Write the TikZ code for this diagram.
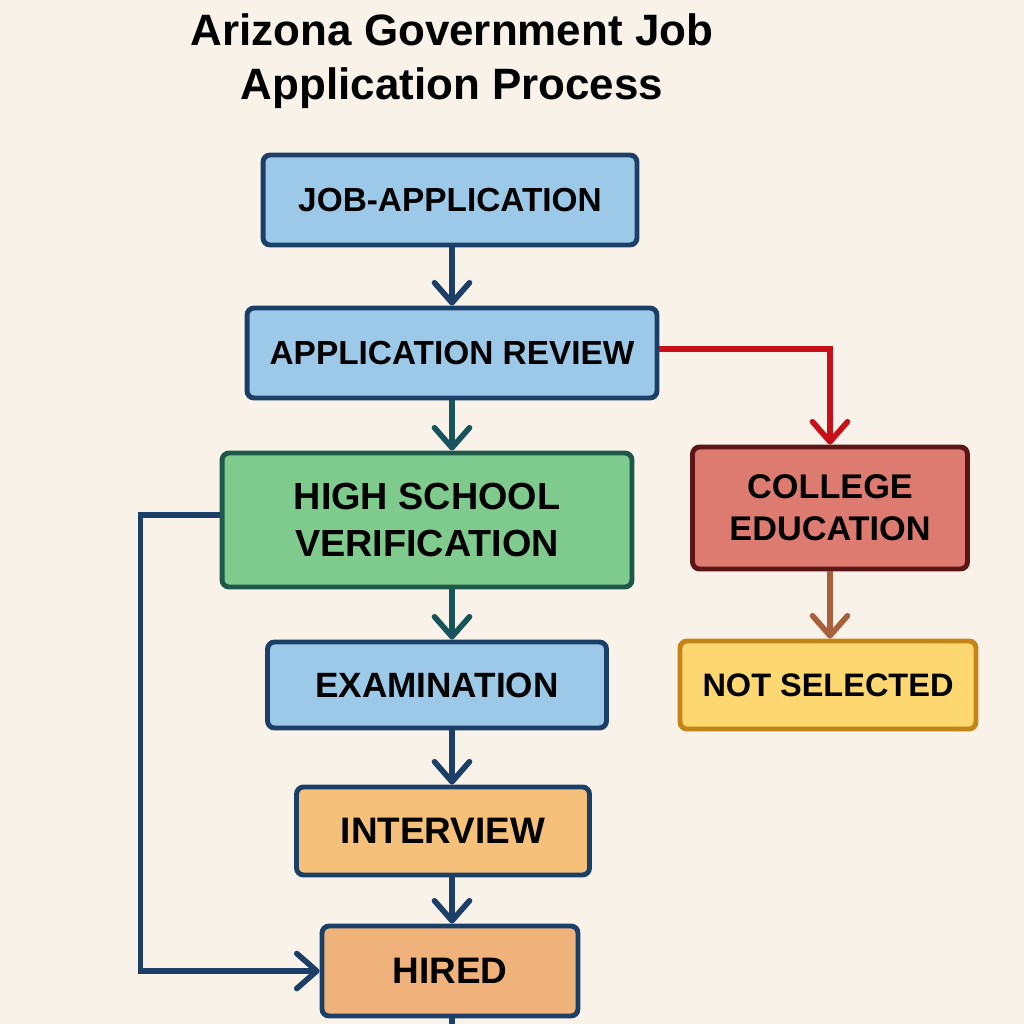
\documentclass[tikz,border=0pt]{standalone}
\usepackage{fontspec}
\setmainfont{Liberation Sans}
\usetikzlibrary{arrows.meta}
\definecolor{bgcream}{RGB}{248,242,232}
\definecolor{boxblue}{RGB}{157,201,232}
\definecolor{navyline}{RGB}{27,63,102}
\definecolor{boxgreen}{RGB}{127,203,141}
\definecolor{greenline}{RGB}{30,88,72}
\definecolor{tealline}{RGB}{24,84,92}
\definecolor{boxorange}{RGB}{245,192,122}
\definecolor{boxhired}{RGB}{239,178,122}
\definecolor{boxred}{RGB}{222,123,112}
\definecolor{maroonline}{RGB}{92,22,22}
\definecolor{arrowred}{RGB}{200,16,26}
\definecolor{boxyellow}{RGB}{253,216,112}
\definecolor{goldline}{RGB}{196,132,24}
\definecolor{arrowbrown}{RGB}{168,96,58}
\tikzset{
  stepbox/.style={draw=navyline, line width=2.8pt, rounded corners=4pt, align=center,
    inner sep=0pt, font=\fontsize{20}{26}\selectfont\bfseries},
  flow/.style={line width=3.2pt, navyline, -{Straight Barb[length=4mm, width=7mm, round]}},
}

\begin{document}
\begin{tikzpicture}[x=0.02cm, y=-0.02cm]

% Background
\fill[bgcream] (0,0) rectangle (1024,1024);
\useasboundingbox (0,0) rectangle (1024,1024);

% Title
\node[font=\fontsize{25}{31}\selectfont\bfseries, align=center] (title) at (452,61)
    {Arizona Government Job\\Application Process};

% Main column
\node[stepbox, fill=boxblue, minimum width=7.48cm, minimum height=1.8cm,
      font=\fontsize{19}{23}\selectfont\bfseries] (job) at (450,200) {JOB-APPLICATION};
\node[stepbox, fill=boxblue, minimum width=8.2cm, minimum height=1.8cm,
      font=\fontsize{19}{23}\selectfont\bfseries] (review) at (452,353) {APPLICATION REVIEW};
\node[stepbox, fill=boxgreen, draw=greenline, minimum width=8.2cm, minimum height=2.68cm,
      font=\fontsize{21.5}{27}\selectfont\bfseries] (verify) at (427,520) {HIGH SCHOOL\\VERIFICATION};
\node[stepbox, fill=boxblue, minimum width=6.78cm, minimum height=1.72cm] (exam) at (437,685) {EXAMINATION};
\node[stepbox, fill=boxorange, minimum width=5.86cm, minimum height=1.76cm,
      font=\fontsize{21}{26}\selectfont\bfseries] (interview) at (443,831) {INTERVIEW};
\node[stepbox, fill=boxhired, minimum width=5.12cm, minimum height=1.8cm,
      font=\fontsize{21}{26}\selectfont\bfseries] (hired) at (450,971) {HIRED};

% Side branch
\node[stepbox, fill=boxred, draw=maroonline, minimum width=5.5cm, minimum height=2.44cm,
      font=\fontsize{19.5}{24}\selectfont\bfseries] (college) at (830,508) {COLLEGE\\EDUCATION};
\node[stepbox, fill=boxyellow, draw=goldline, minimum width=5.92cm, minimum height=1.76cm,
      font=\fontsize{18.5}{23}\selectfont\bfseries] (notsel) at (828,685) {NOT SELECTED};

% Arrows down the main column
\foreach \a/\b/\c in {job/review/navyline, review/verify/tealline, verify/exam/tealline,
                      exam/interview/navyline, interview/hired/navyline} {
    \draw[flow, \c] (review.south |- \a.south) -- (review.south |- \b.north);
}
\draw[line width=3.2pt, navyline] (review.south |- hired.south) -- ++(0,12);

% Rejection branch
\draw[flow, arrowred] ([yshift=0.08cm]review.east) -| (college.north);
\draw[flow, arrowbrown] (college.south) -- (college.south |- notsel.north);

% Shortcut to hired
\draw[flow] ([yshift=0.1cm]verify.west) -- ++(-79,0) |- (hired.west);

\end{tikzpicture}
\end{document}
